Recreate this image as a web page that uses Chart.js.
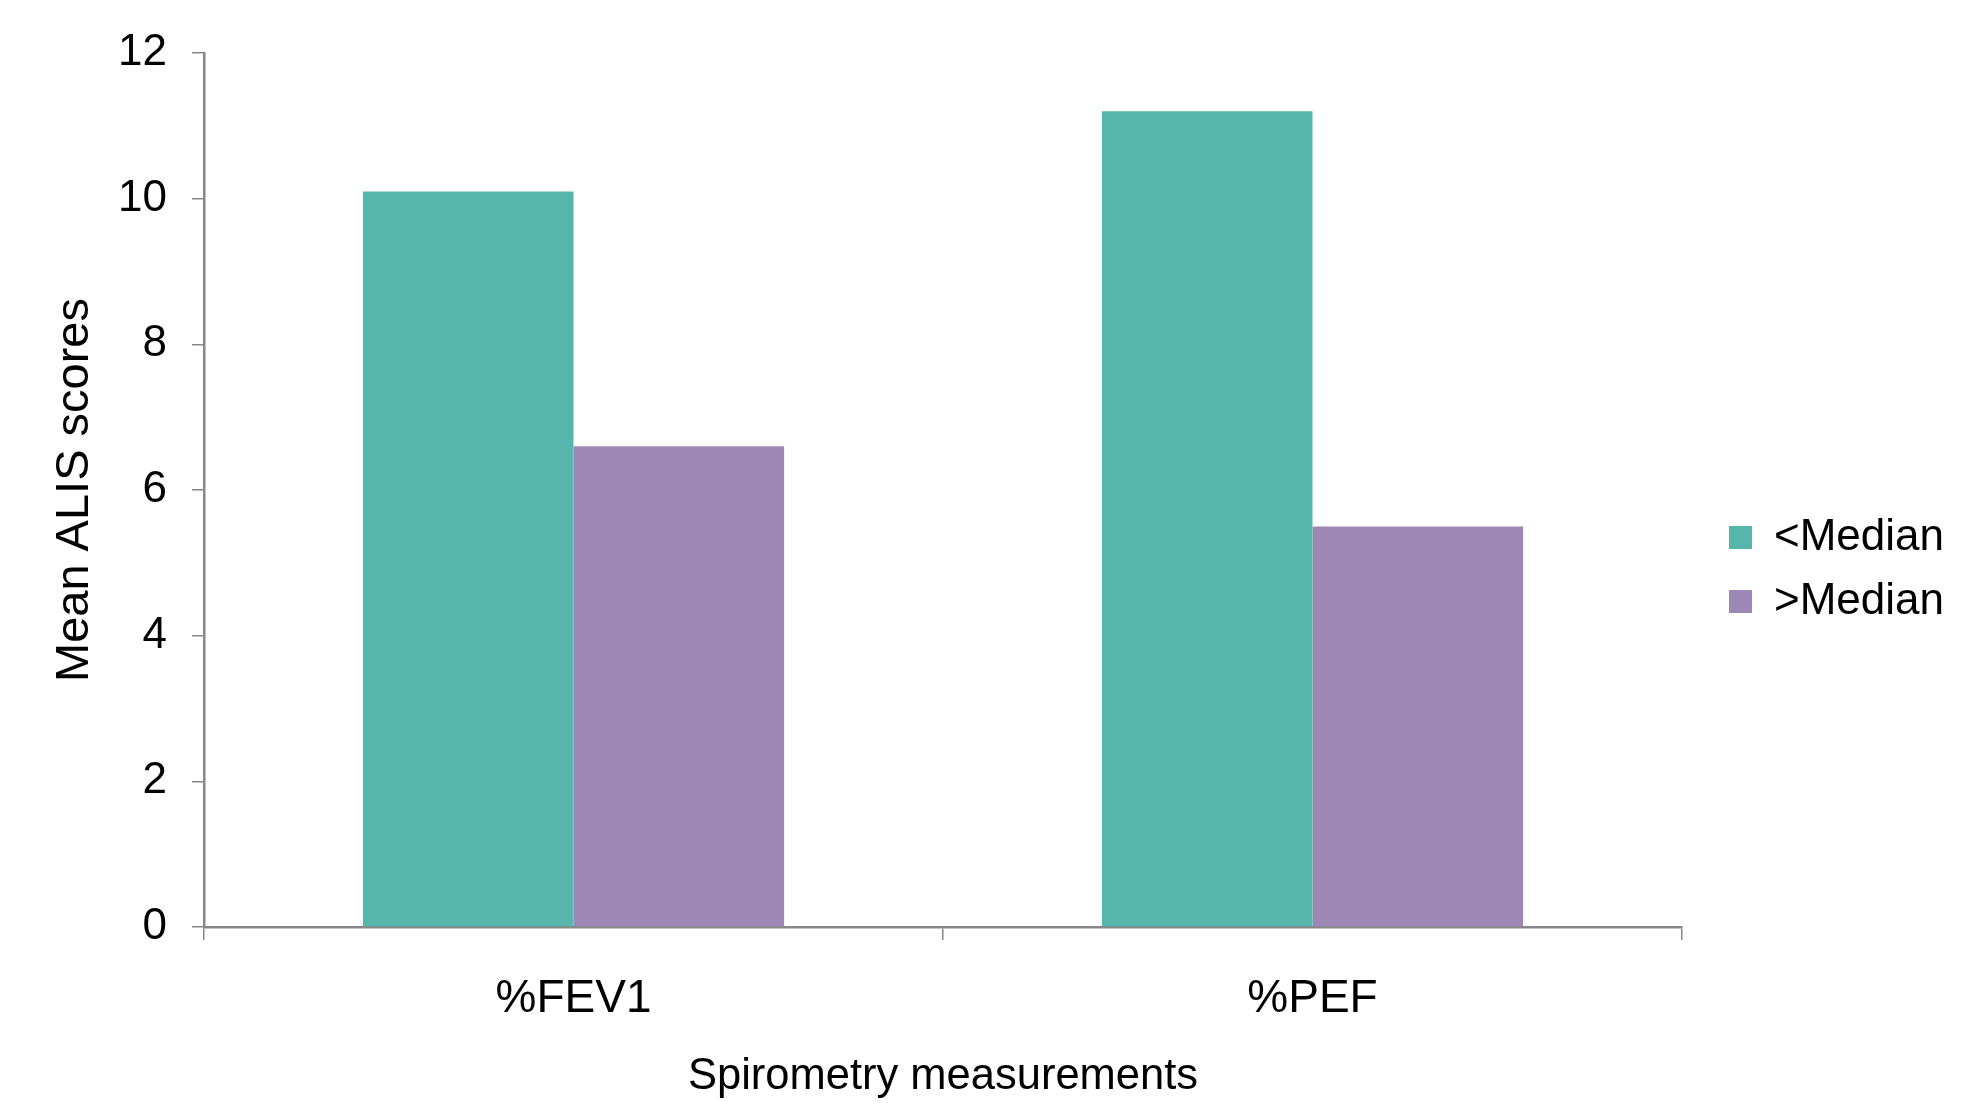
<!DOCTYPE html>
<html>
<head>
<meta charset="utf-8">
<script src="https://cdn.jsdelivr.net/npm/chart.js@4.4.1/dist/chart.umd.min.js"></script>
<style>
  html, body { margin: 0; padding: 0; background: #ffffff; }
</style>
</head>
<body>
<canvas id="chart" width="1972" height="1106"></canvas>
<script>
const categories = ['%FEV1', '%PEF'];
const belowMedian = [10.1, 11.2];
const aboveMedian = [6.6, 5.5];
const seriesNames = ['<Median', '>Median'];
const yTicks = [0, 2, 4, 6, 8, 10, 12];

const font = 'Liberation Sans, Arial, Helvetica, sans-serif';
const axisGrey = '#878787';

new Chart(document.getElementById('chart'), {
  type: 'bar',
  data: {
    labels: categories,
    datasets: [{
      label: seriesNames[0],
      data: belowMedian,
      backgroundColor: '#57b6ac',
      borderWidth: 0
    }, {
      label: seriesNames[1],
      data: aboveMedian,
      backgroundColor: '#9d87b5',
      borderWidth: 0
    }]
  },
  options: {
    responsive: false,
    animation: false,
    layout: {
      padding: { top: 53, bottom: 20, left: 0, right: 18 }
    },
    datasets: {
      bar: { categoryPercentage: 0.57, barPercentage: 1 }
    },
    plugins: {
      tooltip: { enabled: false },
      legend: {
        position: 'right',
        labels: {
          boxWidth: 23,
          boxHeight: 23,
          padding: 20,
          color: '#000000',
          font: { family: font, size: 44 }
        }
      }
    },
    scales: {
      x: {
        grid: {
          offset: true,
          drawOnChartArea: false,
          drawTicks: true,
          tickLength: 13,
          color: axisGrey,
          lineWidth: 1.5
        },
        border: { color: axisGrey, width: 2.5 },
        ticks: {
          color: '#000000',
          padding: 32,
          font: { family: font, size: 46 }
        },
        title: {
          display: true,
          text: 'Spirometry measurements',
          color: '#000000',
          padding: { top: 0, bottom: 0 },
          font: { family: font, size: 43.5, lineHeight: 0.43 }
        },
        afterFit: s => { s.height = 159; }
      },
      y: {
        min: 0,
        max: 12,
        afterBuildTicks: s => { s.ticks = yTicks.map(v => ({ value: v })); },
        grid: {
          drawOnChartArea: false,
          drawTicks: true,
          tickLength: 12,
          color: axisGrey,
          lineWidth: 1.5
        },
        border: { color: axisGrey, width: 2.5 },
        ticks: {
          color: '#000000',
          padding: 25,
          font: { family: font, size: 44 }
        },
        title: {
          display: true,
          text: 'Mean ALIS scores',
          color: '#000000',
          padding: { top: 47, bottom: 0 },
          font: { family: font, size: 47 }
        },
        afterFit: s => { s.width = 204; }
      },
      gap: {
        type: 'linear',
        position: 'right',
        display: true,
        grid: { display: false },
        border: { display: false },
        ticks: { display: false },
        afterFit: s => { s.width = 27; }
      }
    }
  }
});
</script>
</body>
</html>
